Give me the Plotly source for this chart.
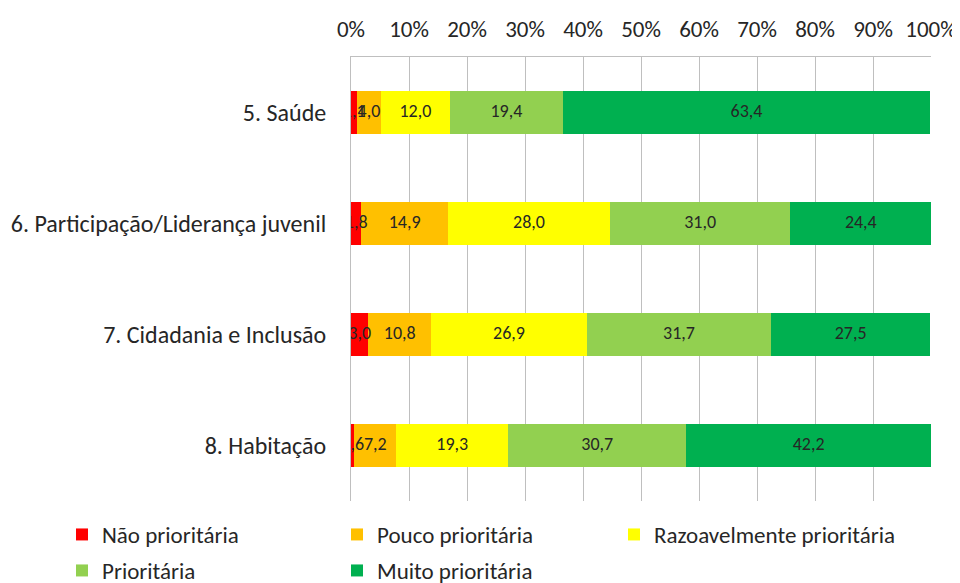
import numpy as np
import plotly.graph_objects as go

categories = ["5. Saúde", "6. Participação/Liderança juvenil", "7. Cidadania e Inclusão", "8. Habitação"]
series_names = ["Não prioritária", "Pouco prioritária", "Razoavelmente prioritária", "Prioritária", "Muito prioritária"]
nao = [1.1, 1.8, 3.0, 0.6]
pouco = [4.0, 14.9, 10.8, 7.2]
razoavel = [12.0, 28.0, 26.9, 19.3]
prioritaria = [19.4, 31.0, 31.7, 30.7]
muito = [63.4, 24.4, 27.5, 42.2]
tick_vals = [0, 10, 20, 30, 40, 50, 60, 70, 80, 90, 100]
tick_text = ["0%", "10%", "20%", "30%", "40%", "50%", "60%", "70%", "80%", "90%", "100%"]

colors = ["#FF0000", "#FFC000", "#FFFF00", "#92D050", "#00B050"]
series = [nao, pouco, razoavel, prioritaria, muito]
legend_ids = ["legend", "legend", "legend3", "legend2", "legend2"]

FONT = "Carlito, Lato, sans-serif"
TXT = "#262626"

# page body has an 8px margin, so the figure is drawn 8px smaller
W, H = 952, 575
L, R, T, B = 343, 29, 49, 82
PW, PH = W - L - R, H - T - B

fig = go.Figure()
for name, vals, col, lg in zip(series_names, series, colors, legend_ids):
    fig.add_trace(go.Bar(
        y=categories, x=vals, name=name, orientation="h",
        marker=dict(color=col, line=dict(width=0)),
        legend=lg, hoverinfo="x+name",
    ))

# data labels on top of all bars (centred on each segment, like Excel)
arr = np.array(series, dtype=float)
cum = np.cumsum(arr, axis=0)
for vals, c in zip(arr, cum):
    fig.add_trace(go.Scatter(
        y=categories, x=c - vals / 2, mode="text",
        text=[f"{v:.1f}".replace(".", ",") for v in vals],
        textposition="middle center",
        textfont=dict(size=18, color=TXT, family=FONT),
        showlegend=False, hoverinfo="skip",
    ))


def px_to_paper_x(px_fig):
    return (px_fig - L) / PW


def px_to_paper_y(py_fig):
    return (H - B - py_fig) / PH


legend_common = dict(orientation="h", xanchor="left", yanchor="top",
                     font=dict(size=23, family=FONT, color=TXT),
                     traceorder="normal", itemwidth=30, bgcolor="rgba(0,0,0,0)")

fig.update_layout(
    barmode="stack",
    bargap=0.61,
    width=W, height=H,
    paper_bgcolor="white", plot_bgcolor="white",
    margin=dict(l=L, r=R, t=T, b=B, autoexpand=False),
    font=dict(family=FONT, size=23, color=TXT),
    xaxis=dict(side="top", range=[0, 100], tickvals=tick_vals, ticktext=tick_text,
               showgrid=True, gridcolor="#BFBFBF", gridwidth=1, zeroline=False,
               showline=True, linecolor="#BFBFBF", linewidth=1,
               ticks="", tickfont=dict(size=23, family=FONT, color=TXT), ticklabelstandoff=10),
    yaxis=dict(autorange="reversed", showline=True, linecolor="#BFBFBF", linewidth=1,
               ticks="", tickfont=dict(size=24, family=FONT, color=TXT), ticklabelstandoff=19),
    legend=dict(x=px_to_paper_x(54), y=px_to_paper_y(505),
                entrywidth=230, entrywidthmode="pixels", **legend_common),
    legend3=dict(x=px_to_paper_x(606), y=px_to_paper_y(505), **legend_common),
    legend2=dict(x=px_to_paper_x(54), y=px_to_paper_y(541),
                 entrywidth=230, entrywidthmode="pixels", **legend_common),
)
fig.write_html("out.html")
